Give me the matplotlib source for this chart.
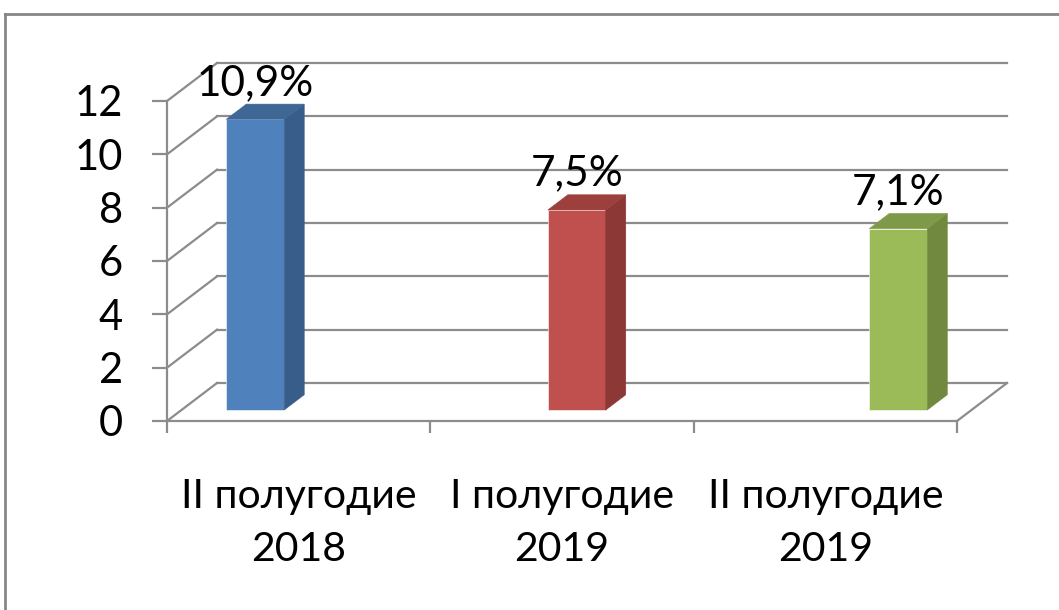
import numpy as np
import matplotlib
matplotlib.use("Agg")
from matplotlib import pyplot as plt
from matplotlib.patches import Polygon
from matplotlib.lines import Line2D

plt.rcParams['font.family'] = ['Lato', 'DejaVu Sans']

# ---data---
categories = ['II полугодие\n2018', 'I полугодие\n2019', 'II полугодие\n2019']
values = [10.9, 7.5, 6.8]
value_labels = ['10,9%', '7,5%', '7,1%']
yticks = [0, 2, 4, 6, 8, 10, 12]

front_colors = ['#4F81BD', '#C0504D', '#9BBB59']
side_colors = ['#385D8A', '#8C3836', '#71893F']
top_colors = ['#3E6796', '#9D403D', '#7E9A48']
grid_c = '#8C8C8C'

fig = plt.figure(figsize=(10.59, 6.10), dpi=100)
ax = fig.add_axes([167 / 1059, 189 / 610, 790 / 1059, 320 / 610])
ax.set_xlim(0, 3)
ax.set_ylim(0, 12)

# oblique depth of the "3d" box (data units)
wdx, wdy = 0.19, 1.425
# bars sit part way into the depth
f0, f1 = 0.29, 0.69
bw = 0.22
bar_x = 0.17 + 1.221 * np.arange(len(values))

# back wall gridlines + left wall diagonals
for k in yticks:
    ax.plot([wdx, 3 + wdx], [k + wdy, k + wdy], color=grid_c, lw=1.6, clip_on=False, zorder=1)
    ax.plot([0, wdx], [k, k + wdy], color=grid_c, lw=1.6, clip_on=False, zorder=1)
# floor right edge
ax.plot([3, 3 + wdx], [0, wdy], color=grid_c, lw=1.6, clip_on=False, zorder=1)

# bars
for i, v in enumerate(values):
    sx, sy = f0 * wdx, f0 * wdy
    ddx, ddy = (f1 - f0) * wdx, (f1 - f0) * wdy
    x0 = bar_x[i] + sx
    x1 = x0 + bw
    front = Polygon([(x0, sy), (x1, sy), (x1, sy + v), (x0, sy + v)],
                    closed=True, fc=front_colors[i], ec='#FFFFFF', lw=0.4, zorder=3, clip_on=False)
    side = Polygon([(x1, sy), (x1 + ddx, sy + ddy), (x1 + ddx, sy + ddy + v), (x1, sy + v)],
                   closed=True, fc=side_colors[i], ec=side_colors[i], lw=0.4, zorder=3, clip_on=False)
    top = Polygon([(x0, sy + v), (x0 + ddx, sy + v + ddy), (x1 + ddx, sy + v + ddy), (x1, sy + v)],
                  closed=True, fc=top_colors[i], ec=top_colors[i], lw=0.4, zorder=3, clip_on=False)
    for p in (front, side, top):
        ax.add_patch(p)
    ax.text(x0 + bw / 2, sy + v + ddy + 0.35, value_labels[i], ha='center', va='baseline',
            fontsize=30.5, color='black', zorder=4, clip_on=False)

# axes styling
for s in ['top', 'right']:
    ax.spines[s].set_visible(False)
ax.spines['left'].set_color(grid_c)
ax.spines['bottom'].set_color(grid_c)
ax.spines['left'].set_linewidth(1.6)
ax.spines['bottom'].set_linewidth(1.6)

ax.set_yticks(yticks)
ax.set_yticklabels([str(t) for t in yticks])
ax.tick_params(axis='y', direction='out', length=10.8, width=1.6, color=grid_c,
               pad=21, labelsize=30)

ax.set_xticks([0.5, 1.5, 2.5])
ax.set_xticklabels(categories, linespacing=1.55)
ax.set_xticks([0, 1, 2, 3], minor=True)
ax.tick_params(axis='x', which='major', length=0, pad=41, labelsize=29.5)
ax.tick_params(axis='x', which='minor', direction='out', length=8.6, width=1.6, color=grid_c)

# outer chart frame
fig.add_artist(Line2D([5 / 1059, 5 / 1059], [0, 1 - 14 / 610], transform=fig.transFigure,
                      color='#868686', lw=2))
fig.add_artist(Line2D([5 / 1059, 1], [1 - 14 / 610, 1 - 14 / 610], transform=fig.transFigure,
                      color='#868686', lw=2))

fig.savefig('out.png', dpi=100)
